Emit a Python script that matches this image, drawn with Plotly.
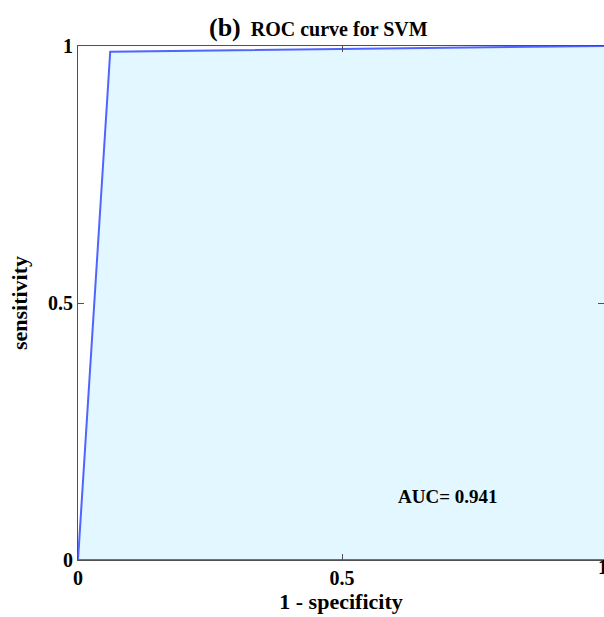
import plotly.graph_objects as go

# ROC data (1 - specificity, sensitivity)
fpr = [0.0, 0.061, 1.0, 1.0, 0.0]
tpr = [0.0, 0.989, 1.0, 0.0, 0.0]
auc_value = 0.941
x_ticks = [0, 0.5, 1]
y_ticks = [0, 0.5, 1]
tick_labels = ["0", "0.5", "1"]

W, H = 604, 617
ml, mt, mb = 78, 46, 57
plot_w = W - ml
px_per_unit = 528.0
x_max = plot_w / px_per_unit

font = "Liberation Serif, Times New Roman, serif"

fig = go.Figure()
fig.add_trace(go.Scatter(
    x=fpr, y=tpr, mode="lines", fill="toself",
    fillcolor="rgb(226,247,255)",
    line=dict(color="rgb(80,100,255)", width=2),
    hoverinfo="skip", showlegend=False,
))

fig.add_annotation(
    x=0.70, y=0.123, xref="x", yref="y",
    text="<b>AUC= %.3f</b>" % auc_value, showarrow=False,
    font=dict(family=font, size=19, color="black"),
)
fig.add_annotation(
    x=(318 - ml) / plot_w, y=1, xref="paper", yref="paper",
    yanchor="middle", yshift=19,
    text="<b><span style='font-size:26px'>(b)</span>  ROC curve for SVM</b>",
    showarrow=False, font=dict(family=font, size=20, color="black"),
)
# partially visible tick label "1" at the right edge
fig.add_annotation(
    x=1.0 / x_max, y=0, xref="paper", yref="paper", yshift=-20, xshift=4,
    text="<b>1</b>", showarrow=False,
    font=dict(family=font, size=20, color="black"),
)

fig.update_layout(
    width=W, height=H,
    margin=dict(l=ml, r=0, t=mt, b=mb),
    paper_bgcolor="white", plot_bgcolor="white",
    font=dict(family=font, color="black"),
)
fig.update_xaxes(
    range=[0, x_max],
    tickvals=x_ticks, ticktext=["<b>%s</b>" % t for t in tick_labels],
    tickfont=dict(family=font, size=20, color="black"),
    ticks="inside", ticklen=6, tickcolor="rgb(80,80,80)",
    showline=True, linecolor="rgb(80,80,80)", linewidth=1, mirror="ticks",
    showgrid=False, zeroline=False,
    title=dict(text="<b>1 - specificity</b>", font=dict(family=font, size=22, color="black"), standoff=4),
)
fig.update_yaxes(
    range=[0, 1],
    tickvals=y_ticks, ticktext=["<b>%s</b>" % t for t in tick_labels],
    tickfont=dict(family=font, size=20, color="black"),
    ticks="inside", ticklen=6, tickcolor="rgb(80,80,80)",
    showline=True, linecolor="rgb(80,80,80)", linewidth=1, mirror="ticks",
    showgrid=False, zeroline=False,
    title=dict(text="<b>sensitivity</b>", font=dict(family=font, size=22, color="black"), standoff=14),
)

fig.write_html("out.html", config={"displayModeBar": False},
               post_script="document.body.style.margin='0px';")
